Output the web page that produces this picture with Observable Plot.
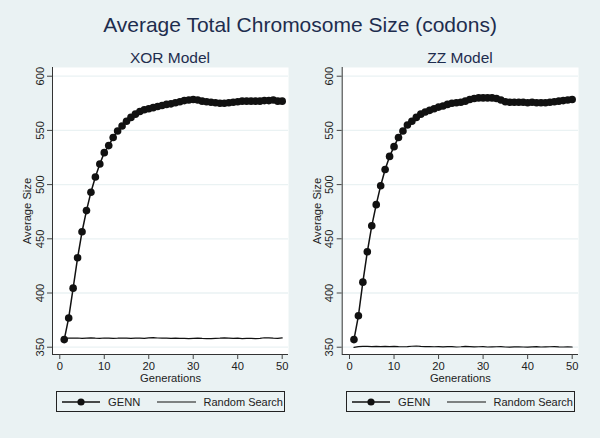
<!DOCTYPE html>
<html><head><meta charset="utf-8">
<script src="https://cdn.jsdelivr.net/npm/d3@7"></script>
<script src="https://cdn.jsdelivr.net/npm/@observablehq/plot@0.6"></script>
<style>
body{margin:0;background:#EAF2F3;}
#wrap{position:relative;width:600px;height:438px;background:#EAF2F3;overflow:hidden;font-family:"Liberation Sans",Arial,sans-serif;}
.t{position:absolute;white-space:nowrap;color:#1e2d4e;transform:translateX(-50%);line-height:1;}
.panel{position:absolute;top:60px;}
.legend{position:absolute;top:391px;height:19px;border:1px solid #222;overflow:hidden;box-sizing:content-box;}
.legend svg{display:block;}
</style></head><body><div id="wrap"></div>
<script>
// ---- data ----
const generations = [1,2,3,4,5,6,7,8,9,10,11,12,13,14,15,16,17,18,19,20,21,22,23,24,25,26,27,28,29,30,31,32,33,34,35,36,37,38,39,40,41,42,43,44,45,46,47,48,49,50];
const xorGenn = [357,377,404.5,432.5,456.5,476,493,507,519,529.5,536,543.5,549.5,554,558.5,562,565,567.5,569,570,571,572,573,574,574.5,575.5,576.5,577.5,578,578.5,578,577,576.5,576,575.5,575,575,575.5,576,576.5,577,577,577,577,577,577.5,577.5,578,577,577];
const xorRandom = [358,358.5,358.3,358.5,358.2,358.4,358.6,358.3,358.2,358.5,358.4,358.2,358.3,358.5,358.4,358.2,358.3,358.4,358.2,358.6,358.9,358.5,358.3,358.4,358.2,358.3,358.1,358.2,358.0,358.2,358.3,358.1,358.0,357.9,358.1,358.3,358.6,358.4,358.1,358.3,358.0,358.2,358.1,357.9,358.2,358.7,358.6,358.3,358.2,358.6];
const zzGenn = [357,379,410,438,462,481.5,499,514,526,535,543.5,549.5,555,558.5,562,565,567,568.5,570,571.5,572.5,574,575,575.5,576,577,578.5,579.5,580,580,580,580,579.5,578,576.5,576,576,576,576,575.5,576,575.5,575.5,575.5,576,576.5,577,577.5,578,578.5];
const zzRandom = [349.8,350.6,350.8,350.7,350.6,350.8,350.5,350.7,350.6,350.8,350.5,350.4,350.6,350.9,351.1,350.8,350.6,350.5,350.4,350.6,350.3,350.5,350.6,350.2,350.4,350.7,350.5,350.3,350.4,350.6,350.2,350.3,350.4,350.5,350.2,350.1,350.3,350.4,350.2,350.1,350.3,350.5,350.2,350.3,350.4,350.6,350.3,350.2,350.3,350.2];
const yTicks = [350,400,450,500,550,600];
const xTicks = [0,10,20,30,40,50];
const mainTitle = "Average Total Chromosome Size (codons)";
const panelTitles = ["XOR Model","ZZ Model"];
const seriesNames = ["GENN","Random Search"];
const xLabel = "Generations";
const yLabel = "Average Size";

const wrap = document.getElementById("wrap");
const XD = [-1.64, 51.42], YD = [343.27, 608.03];
const ink = "#111";

function addText(txt, cx, top, size, color) {
  const d = document.createElement("div");
  d.className = "t"; d.textContent = txt;
  d.style.left = cx + "px"; d.style.top = top + "px"; d.style.fontSize = size + "px";
  if (color) d.style.color = color;
  wrap.appendChild(d);
}

function panel(genn, rand, left, mL, mR) {
  const data = generations.map((g, i) => ({g, genn: genn[i], rand: rand[i]}));
  const p = Plot.plot({
    width: 300, height: 330,
    marginLeft: mL, marginRight: mR, marginTop: 7, marginBottom: 36,
    style: {background: "transparent", fontFamily: "'Liberation Sans', Arial, sans-serif", fontSize: "11.2px", color: "#222"},
    x: {domain: XD},
    y: {domain: YD},
    marks: [
      Plot.frame({fill: "white", stroke: null}),
      Plot.gridY(yTicks, {stroke: "#EAF2F3", strokeOpacity: 1, strokeWidth: 1.3}),
      Plot.line(data, {x: "g", y: "rand", stroke: ink, strokeWidth: 1.2}),
      Plot.line(data, {x: "g", y: "genn", stroke: ink, strokeWidth: 1.5}),
      Plot.dot(data, {x: "g", y: "genn", r: 3.8, fill: ink, stroke: null}),
      Plot.ruleX([XD[0]], {stroke: "#333", strokeWidth: 1}),
      Plot.ruleY([YD[0]], {stroke: "#333", strokeWidth: 1}),
      Plot.axisY(yTicks, {tickRotate: -90, tickSize: 5, tickPadding: 4, stroke: "#444",
        label: yLabel, labelAnchor: "center", labelArrow: "none", labelOffset: 29}),
      Plot.axisX(xTicks, {tickSize: 5, tickPadding: 3, stroke: "#444",
        label: xLabel, labelAnchor: "center", labelArrow: "none", labelOffset: 27})
    ]
  });
  p.classList.add("panel");
  p.style.left = left + "px";
  wrap.appendChild(p);
}

function legend(left, width) {
  const box = document.createElement("div");
  box.className = "legend";
  box.style.left = left + "px"; box.style.width = (width - 2) + "px";
  const ns = "http://www.w3.org/2000/svg";
  const svg = document.createElementNS(ns, "svg");
  svg.setAttribute("width", width - 2); svg.setAttribute("height", 19);
  const mk = (tag, attrs) => { const e = document.createElementNS(ns, tag); for (const k in attrs) e.setAttribute(k, attrs[k]); svg.appendChild(e); return e; };
  mk("line", {x1: 5, x2: 43, y1: 10, y2: 10, stroke: ink, "stroke-width": 1.5});
  mk("circle", {cx: 24, cy: 10, r: 3.6, fill: ink});
  const t1 = mk("text", {x: 51, y: 14.2, "font-size": 11.2, fill: "#222", "font-family": "'Liberation Sans', Arial, sans-serif"});
  t1.textContent = seriesNames[0];
  mk("line", {x1: 100, x2: 139, y1: 10, y2: 10, stroke: ink, "stroke-width": 1.2});
  const t2 = mk("text", {x: 146.5, y: 14.2, "font-size": 11, fill: "#222", "font-family": "'Liberation Sans', Arial, sans-serif"});
  t2.textContent = seriesNames[1];
  box.appendChild(svg);
  wrap.appendChild(box);
}

panel(xorGenn, xorRandom, 0, 52, 12);
panel(zzGenn, zzRandom, 300, 41.7, 22);
addText(mainTitle, 300, 14, 21);
addText(panelTitles[0], 170, 50, 15.5);
addText(panelTitles[1], 460, 50, 15.5);
legend(56, 229);
legend(345.7, 229);
</script></body></html>
